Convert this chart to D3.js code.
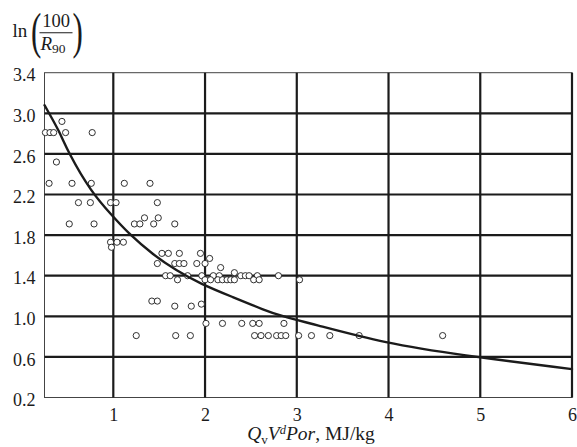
<!DOCTYPE html>
<html>
<head>
<meta charset="utf-8">
<script src="https://cdn.jsdelivr.net/npm/d3@7"></script>
<style>
	body { margin: 0; background: #fff; }
	svg { display: block; font-family: "Liberation Serif", "Times New Roman", serif; }
</style>
</head>
<body>
<script>
// tick labels
const xTickValues = [1, 2, 3, 4, 5, 6];
const yTickValues = [0.2, 0.6, 1.0, 1.4, 1.8, 2.2, 2.6, 3.0, 3.4];

// measured points: x = QvVdPor (MJ/kg), y = ln(100/R90)
const pointsX = [
	0.44, 0.26, 0.31, 0.35, 0.48, 0.77, 0.38,
	0.30, 0.55, 0.76, 1.12, 1.40,
	0.62, 0.75, 0.97, 1.03, 1.48,
	0.52, 0.79, 1.23, 1.29, 1.44, 1.67, 1.34, 1.49,
	0.97, 0.98, 1.04, 1.11,
	1.53, 1.60, 1.72, 1.95, 2.05,
	1.48, 1.67, 1.72, 1.77, 1.91, 2.00,
	2.17, 2.32,
	1.57, 1.62, 1.81, 1.965, 2.09, 2.155, 2.39, 2.44, 2.48, 2.57, 2.80,
	1.70, 2.00, 2.06, 2.14, 2.19, 2.24, 2.28, 2.32, 2.53, 2.59, 3.03,
	1.42, 1.48, 1.67, 1.85, 1.96,
	2.01, 2.19, 2.40, 2.52, 2.59, 2.86,
	1.25, 1.68, 1.84, 2.54, 2.61, 2.69, 2.78, 2.83, 2.88, 3.02, 3.16, 3.36, 3.68, 4.59
];
const pointsY = [
	2.92, 2.81, 2.81, 2.81, 2.81, 2.81, 2.52,
	2.31, 2.31, 2.31, 2.31, 2.31,
	2.12, 2.12, 2.12, 2.12, 2.12,
	1.91, 1.91, 1.91, 1.91, 1.91, 1.91, 1.97, 1.97,
	1.73, 1.68, 1.73, 1.73,
	1.62, 1.62, 1.62, 1.62, 1.57,
	1.52, 1.52, 1.52, 1.52, 1.52, 1.52,
	1.48, 1.43,
	1.40, 1.40, 1.40, 1.40, 1.40, 1.40, 1.40, 1.40, 1.40, 1.40, 1.40,
	1.36, 1.36, 1.36, 1.36, 1.36, 1.36, 1.36, 1.36, 1.36, 1.36, 1.36,
	1.15, 1.15, 1.10, 1.10, 1.12,
	0.93, 0.93, 0.93, 0.93, 0.93, 0.93,
	0.81, 0.81, 0.81, 0.81, 0.81, 0.81, 0.81, 0.81, 0.81, 0.81, 0.81, 0.81, 0.81, 0.81
];

// fitted curve
const curveX = [0.25, 0.42, 0.50, 0.76, 1.00, 1.15, 1.44, 1.69, 1.95, 2.30, 2.65, 2.84, 3.15, 3.98, 4.77, 6.00];
const curveY = [3.08, 2.81, 2.63, 2.22, 1.98, 1.83, 1.60, 1.45, 1.32, 1.19, 1.06, 1.00, 0.93, 0.73, 0.62, 0.48];

const W = 577, H = 447;
const margin = {top: 72.7, right: 5, bottom: 49.5, left: 44.5};

const svg = d3.select("body")
	.append("svg")
	.attr("width", W)
	.attr("height", H);

//scales
const x = d3.scaleLinear()
	.domain([0.25, 6])
	.range([margin.left, W - margin.right]);

const y = d3.scaleLinear()
	.domain([0.2, 3.4])
	.range([H - margin.bottom, margin.top]);

const ink = "#1b1b1b";

//thin frame (left, top, bottom)
svg.append("rect")
	.attr("x", x(0.25))
	.attr("y", y(3.4))
	.attr("width", x(6) - x(0.25))
	.attr("height", y(0.2) - y(3.4))
	.attr("fill", "none")
	.attr("stroke", "#444")
	.attr("stroke-width", 1);

//heavy grid
svg.append("g")
	.selectAll("line")
	.data(yTickValues.filter(d => d > 0.2 && d < 3.4))
	.join("line")
		.attr("x1", x(0.25))
		.attr("x2", x(6))
		.attr("y1", d => y(d))
		.attr("y2", d => y(d))
		.attr("stroke", ink)
		.attr("stroke-width", 2.2);

svg.append("g")
	.selectAll("line")
	.data(xTickValues)
	.join("line")
		.attr("x1", d => x(d))
		.attr("x2", d => x(d))
		.attr("y1", y(3.4))
		.attr("y2", y(0.2))
		.attr("stroke", ink)
		.attr("stroke-width", 2.2);

//axes (labels only)
const xAxis = d3.axisBottom(x)
	.tickValues(xTickValues)
	.tickFormat(d3.format("d"))
	.tickSize(0);

const yAxis = d3.axisLeft(y)
	.tickValues(yTickValues)
	.tickFormat(d3.format(".1f"))
	.tickSize(0)
	.tickPadding(9);

svg.append("g")
	.attr("transform", `translate(0,${y(0.2)})`)
	.call(xAxis)
	.call(g => g.select(".domain").remove())
	.call(g => g.selectAll("text")
		.attr("y", 23)
		.attr("dy", 0)
		.attr("font-family", "Liberation Serif")
		.attr("font-size", 18)
		.attr("fill", ink));

svg.append("g")
	.attr("transform", `translate(${x(0.25)},0)`)
	.call(yAxis)
	.call(g => g.select(".domain").remove())
	.call(g => g.selectAll("text")
		.attr("dy", "0.46em")
		.attr("font-family", "Liberation Serif")
		.attr("font-size", 18)
		.attr("fill", ink));

//points
svg.append("g")
	.attr("fill", "white")
	.attr("stroke", ink)
	.attr("stroke-width", 0.9)
	.selectAll("circle")
	.data(d3.range(pointsX.length))
	.join("circle")
		.attr("cx", i => x(pointsX[i]))
		.attr("cy", i => y(pointsY[i]))
		.attr("r", 3.1);

//curve
const line = d3.line()
	.x(i => x(curveX[i]))
	.y(i => y(curveY[i]))
	.curve(d3.curveBasis);

svg.append("path")
	.datum(d3.range(curveX.length))
	.attr("fill", "none")
	.attr("stroke", ink)
	.attr("stroke-width", 2.4)
	.attr("stroke-linecap", "round")
	.attr("d", line);

//x title: QvV^dPor, MJ/kg
const xt = svg.append("text")
	.attr("x", 311)
	.attr("y", 440)
	.attr("text-anchor", "middle")
	.attr("font-size", 19.5)
	.attr("fill", ink);
xt.append("tspan").attr("font-style", "italic").text("Q");
xt.append("tspan").attr("font-size", 13).attr("dy", 4).text("v");
xt.append("tspan").attr("font-style", "italic").attr("dy", -4).text("V");
xt.append("tspan").attr("font-style", "italic").attr("font-size", 12.5).attr("dy", -6.5).text("d");
xt.append("tspan").attr("font-style", "italic").attr("dy", 6.5).text("Por");
xt.append("tspan").text(", MJ/kg");

//y title: ln(100 / R90)
const yt = svg.append("g").attr("fill", ink);
yt.append("text")
	.attr("x", 12.5)
	.attr("y", 36.7)
	.attr("font-size", 19)
	.text("ln");
yt.append("text")
	.attr("transform", "translate(31,47.5) scale(0.62,1)")
	.attr("font-size", 50)
	.text("(");
yt.append("text")
	.attr("transform", "translate(72.5,47.5) scale(0.62,1)")
	.attr("font-size", 50)
	.text(")");
yt.append("text")
	.attr("x", 56)
	.attr("y", 27.3)
	.attr("text-anchor", "middle")
	.attr("font-size", 18.5)
	.text("100");
yt.append("line")
	.attr("x1", 39.5)
	.attr("x2", 72.5)
	.attr("y1", 32.7)
	.attr("y2", 32.7)
	.attr("stroke", ink)
	.attr("stroke-width", 1.1);
const den = yt.append("text")
	.attr("x", 40.5)
	.attr("y", 50)
	.attr("font-size", 19);
den.append("tspan").attr("font-style", "italic").text("R");
den.append("tspan").attr("font-size", 13.5).attr("dy", 3).text("90");
</script>
</body>
</html>
